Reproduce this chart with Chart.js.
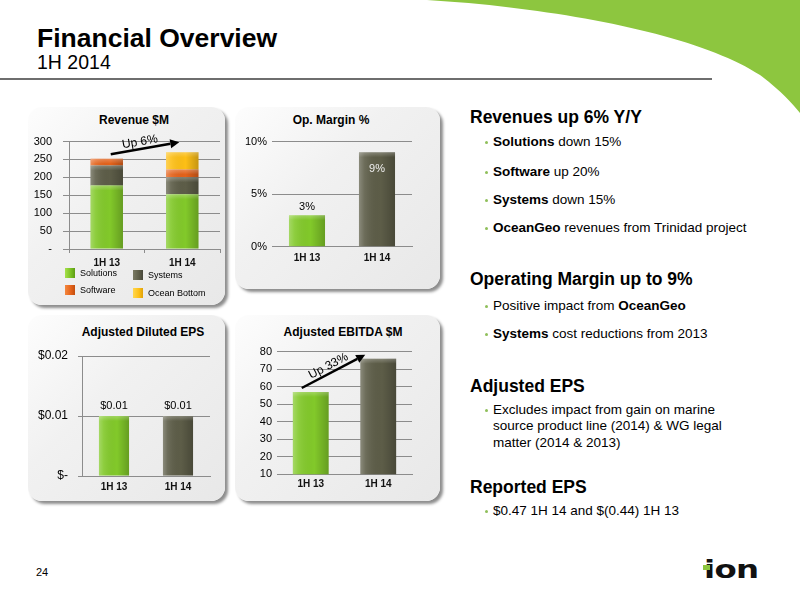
<!DOCTYPE html>
<html>
<head>
<meta charset="utf-8">
<script src="https://cdn.jsdelivr.net/npm/chart.js@4.4.1/dist/chart.umd.min.js"></script>
<style>
html,body{margin:0;padding:0;background:#fff;}
body{width:800px;height:600px;position:relative;overflow:hidden;font-family:'Liberation Sans',Arial,sans-serif;color:#000;}
.panel{position:absolute;border-radius:14px;background:linear-gradient(135deg,#fdfdfd 0%,#f1f1f1 40%,#e8e8e8 100%);box-shadow:3px 3px 3px rgba(0,0,0,0.45);}
.ptitle{position:absolute;font-weight:bold;font-size:12px;line-height:14px;white-space:nowrap;transform:translateX(-50%);}
canvas{position:absolute;}
.h{position:absolute;left:470px;font-weight:bold;font-size:17.5px;line-height:20px;white-space:nowrap;}
.b{position:absolute;left:493px;font-size:13.5px;line-height:16px;white-space:nowrap;}
.b::before{content:'';position:absolute;left:-8px;top:7px;width:3px;height:3px;border-radius:50%;background:#8fbf5a;}
.lg{position:absolute;font-size:9px;line-height:11px;white-space:nowrap;}
.lg i{position:absolute;left:-15px;top:0;width:10px;height:10px;}
</style>
</head>
<body>
<svg style="position:absolute;left:0;top:0" width="800" height="600">
  <path d="M427,0 C560,8 700,35 760,75 C780,90 792,103 800,113 L800,0 Z" fill="#8dc63f"/>
  <rect x="0" y="78" width="712" height="2" fill="#6e6e6e"/>
</svg>
<div style="position:absolute;left:37px;top:22.5px;font-weight:bold;font-size:26.5px;line-height:30px;white-space:nowrap;">Financial Overview</div>
<div style="position:absolute;left:37px;top:51.3px;font-size:19.5px;line-height:22px;white-space:nowrap;">1H 2014</div>

<div class="panel" style="left:28px;top:107px;width:197px;height:198px;"></div>
<div class="panel" style="left:235px;top:107px;width:205px;height:182px;"></div>
<div class="panel" style="left:28px;top:315px;width:197px;height:186px;"></div>
<div class="panel" style="left:235px;top:315px;width:205px;height:186px;"></div>

<div class="ptitle" style="left:134px;top:113px;">Revenue $M</div>
<div class="ptitle" style="left:331px;top:113px;">Op. Margin %</div>
<div class="ptitle" style="left:143px;top:325px;">Adjusted Diluted EPS</div>
<div class="ptitle" style="left:343px;top:325px;">Adjusted EBITDA $M</div>

<canvas id="rev" width="197" height="198" style="left:28px;top:107px;"></canvas>
<canvas id="opm" width="205" height="182" style="left:235px;top:107px;"></canvas>
<canvas id="eps" width="197" height="186" style="left:28px;top:315px;"></canvas>
<canvas id="ebitda" width="205" height="186" style="left:235px;top:315px;"></canvas>

<div class="lg" style="left:80px;top:267.5px;"><i style="background:linear-gradient(90deg,#a6e04a,#78bf22 60%,#5e9c14)"></i>Solutions</div>
<div class="lg" style="left:148px;top:269.5px;"><i style="background:linear-gradient(90deg,#7a7a64,#5d5d48 60%,#46463a)"></i>Systems</div>
<div class="lg" style="left:80px;top:284.5px;"><i style="background:linear-gradient(90deg,#f4883f,#e4621a 60%,#c24e0e)"></i>Software</div>
<div class="lg" style="left:148px;top:287.5px;"><i style="background:linear-gradient(90deg,#ffd750,#fdbf16 60%,#e0a20a)"></i>Ocean Bottom</div>

<div class="h" style="top:106.7px;">Revenues up 6% Y/Y</div>
<div class="b" style="top:134.3px;"><b>Solutions</b> down 15%</div>
<div class="b" style="top:163.7px;"><b>Software</b> up 20%</div>
<div class="b" style="top:192px;"><b>Systems</b> down 15%</div>
<div class="b" style="top:220.3px;"><b>OceanGeo</b> revenues from Trinidad project</div>
<div class="h" style="top:269px;">Operating Margin up to 9%</div>
<div class="b" style="top:298px;">Positive impact from <b>OceanGeo</b></div>
<div class="b" style="top:326.3px;"><b>Systems</b> cost reductions from 2013</div>
<div class="h" style="top:376px;">Adjusted EPS</div>
<div class="b" style="top:401.8px;line-height:16.4px;">Excludes impact from gain on marine<br>source product line (2014) &amp; WG legal<br>matter (2014 &amp; 2013)</div>
<div class="h" style="top:477.3px;">Reported EPS</div>
<div class="b" style="top:503px;">$0.47 1H 14 and $(0.44) 1H 13</div>

<div style="position:absolute;left:36px;top:565.5px;font-size:11px;line-height:13px;">24</div>
<div style="position:absolute;left:704px;top:556px;font-family:'DejaVu Sans';font-weight:bold;font-size:24px;line-height:28px;transform:scaleX(1.35);transform-origin:0 0;color:#111;letter-spacing:-0.5px;">ion</div>
<div style="position:absolute;left:703px;top:565px;width:7px;height:5px;background:#8dc63f;"></div>

<script>
// ---- data ----
const categories = ['1H 13', '1H 14'];
const revenueSolutions = [177, 153];
const revenueSystems = [56, 47];
const revenueSoftware = [19, 22];
const revenueOceanBottom = [0, 48];
const revenueTicks = [0, 50, 100, 150, 200, 250, 300];
const revenueGrowthLabel = 'Up 6%';
const opMarginPct = [3, 9];
const opMarginTicks = [0, 5, 10];
const adjustedEps = [0.01, 0.01];
const epsTicks = [0, 0.01, 0.02];
const adjustedEbitda = [57, 76];
const ebitdaTicks = [10, 20, 30, 40, 50, 60, 70, 80];
const ebitdaGrowthLabel = 'Up 33%';

// ---- styles ----
const GREEN = '#82c92a', OLIVE = '#5d5d48', ORANGE = '#e4621a', YELLOW = '#fdbf16';
const GRID = '#8c8c8c';
const FONT = "'Liberation Sans', Arial, sans-serif";

const bevelPlugin = {
  id: 'bevel',
  afterDatasetsDraw(chart) {
    const ctx = chart.ctx, area = chart.chartArea;
    ctx.save();
    ctx.beginPath();
    ctx.rect(area.left, area.top, area.right - area.left, area.bottom - area.top);
    ctx.clip();
    chart.data.datasets.forEach((ds, di) => {
      const meta = chart.getDatasetMeta(di);
      meta.data.forEach(el => {
        const p = el.getProps(['x', 'y', 'base', 'width'], true);
        const top = Math.min(p.y, p.base), h = Math.abs(p.base - p.y);
        if (h < 1) return;
        const l = p.x - p.width / 2;
        const g = ctx.createLinearGradient(l, 0, l + p.width, 0);
        g.addColorStop(0, 'rgba(255,255,255,0.28)');
        g.addColorStop(0.15, 'rgba(255,255,255,0.10)');
        g.addColorStop(0.6, 'rgba(0,0,0,0)');
        g.addColorStop(1, 'rgba(0,0,0,0.22)');
        ctx.fillStyle = g;
        ctx.fillRect(l, top, p.width, h);
        const g2 = ctx.createLinearGradient(0, top, 0, top + Math.min(5, h));
        g2.addColorStop(0, 'rgba(255,255,255,0.25)');
        g2.addColorStop(1, 'rgba(255,255,255,0)');
        ctx.fillStyle = g2;
        ctx.fillRect(l, top, p.width, Math.min(5, h));
      });
    });
    ctx.restore();
  }
};

const arrowPlugin = {
  id: 'growthArrow',
  afterDatasetsDraw(chart, args, o) {
    if (!o || !o.text) return;
    const xs = chart.scales.x, ys = chart.scales.y, ctx = chart.ctx;
    const x0 = xs.getPixelForValue(0) + o.dx0, y0 = ys.getPixelForValue(o.fromValue) + o.dy0;
    const x1 = xs.getPixelForValue(1) + o.dx1, y1 = ys.getPixelForValue(o.toValue) + o.dy1;
    const a = Math.atan2(y1 - y0, x1 - x0);
    const head = 9, hw = 4.5;
    const bx = x1 - Math.cos(a) * head, by = y1 - Math.sin(a) * head;
    ctx.save();
    ctx.strokeStyle = '#000'; ctx.fillStyle = '#000'; ctx.lineWidth = 2.5;
    ctx.beginPath(); ctx.moveTo(x0, y0); ctx.lineTo(bx, by); ctx.stroke();
    ctx.beginPath();
    ctx.moveTo(x1, y1);
    ctx.lineTo(bx + Math.sin(a) * hw, by - Math.cos(a) * hw);
    ctx.lineTo(bx - Math.sin(a) * hw, by + Math.cos(a) * hw);
    ctx.closePath(); ctx.fill();
    const mx = (x0 + x1) / 2 + Math.sin(a) * o.offset + Math.cos(a) * o.along;
    const my = (y0 + y1) / 2 - Math.cos(a) * o.offset + Math.sin(a) * o.along;
    ctx.translate(mx, my); ctx.rotate(a);
    ctx.font = '12px ' + FONT; ctx.textAlign = 'center'; ctx.textBaseline = 'middle';
    ctx.fillText(o.text, 0, 0);
    ctx.restore();
  }
};

const valueLabelPlugin = {
  id: 'valueLabels',
  afterDatasetsDraw(chart, args, o) {
    if (!o || !o.format) return;
    const ctx = chart.ctx, meta = chart.getDatasetMeta(0);
    ctx.save();
    ctx.font = (o.size || 11) + 'px ' + FONT; ctx.textAlign = 'center'; ctx.textBaseline = 'middle';
    meta.data.forEach((el, i) => {
      const v = chart.data.datasets[0].data[i];
      const inside = o.place[i] === 'inside';
      ctx.fillStyle = o.colors[i];
      ctx.fillText(o.format(v), el.x, el.y + (inside ? o.insideOffset : -o.aboveOffset));
    });
    ctx.restore();
  }
};

function yScale(o) {
  return {
    stacked: !!o.stacked, min: o.ticks[0], max: o.ticks[o.ticks.length - 1],
    afterBuildTicks: s => { s.ticks = o.ticks.map(v => ({ value: v })); },
    afterFit: s => { s.width = o.width; },
    ticks: { callback: o.fmt, color: '#000', font: { family: FONT, size: o.size || 11 }, padding: o.pad },
    grid: { color: GRID, lineWidth: 1, drawTicks: o.tick > 0, tickLength: o.tick, tickColor: GRID },
    border: { display: o.axisLine, color: GRID, width: 1 }
  };
}
function xScale(o) {
  return {
    stacked: !!o.stacked,
    afterFit: s => { s.height = 20; },
    ticks: { color: '#111', font: { family: FONT, size: 10, weight: 'bold' }, padding: o.pad },
    grid: { display: o.sepTicks, drawOnChartArea: false, drawTicks: o.sepTicks, tickLength: 4, color: GRID },
    border: { display: true, color: GRID, width: 1 }
  };
}
const base = {
  responsive: false, animation: false, devicePixelRatio: 1,
  plugins: { legend: { display: false }, title: { display: false }, tooltip: { enabled: false } }
};

new Chart(document.getElementById('rev'), {
  type: 'bar',
  data: {
    labels: categories,
    datasets: [
      { label: 'Solutions', data: revenueSolutions, backgroundColor: GREEN },
      { label: 'Systems', data: revenueSystems, backgroundColor: OLIVE },
      { label: 'Software', data: revenueSoftware, backgroundColor: ORANGE },
      { label: 'Ocean Bottom', data: revenueOceanBottom, backgroundColor: YELLOW }
    ]
  },
  options: Object.assign({}, base, {
    layout: { padding: { left: 0, right: 5, top: 34.5, bottom: 36 } },
    datasets: { bar: { categoryPercentage: 1, barPercentage: 0.43, borderWidth: 0 } },
    plugins: Object.assign({}, base.plugins, {
      growthArrow: {
        text: revenueGrowthLabel,
        fromValue: revenueSolutions[0] + revenueSystems[0] + revenueSoftware[0] + revenueOceanBottom[0],
        toValue: revenueSolutions[1] + revenueSystems[1] + revenueSoftware[1] + revenueOceanBottom[1],
        dx0: 4, dy0: -4.5, dx1: -3, dy1: -10, offset: 7, along: -4
      }
    }),
    scales: {
      x: xScale({ stacked: true, pad: 4, sepTicks: true }),
      y: yScale({ stacked: true, ticks: revenueTicks, width: 41, tick: 6, pad: 11, axisLine: true, fmt: v => v === 0 ? '-' : v })
    }
  }),
  plugins: [bevelPlugin, arrowPlugin]
});

new Chart(document.getElementById('opm'), {
  type: 'bar',
  data: { labels: categories, datasets: [{ label: 'Op. Margin %', data: opMarginPct, backgroundColor: [GREEN, OLIVE] }] },
  options: Object.assign({}, base, {
    layout: { padding: { left: 0, right: 28, top: 34.7, bottom: 22.3 } },
    datasets: { bar: { categoryPercentage: 1, barPercentage: 0.515, borderWidth: 0 } },
    plugins: Object.assign({}, base.plugins, {
      valueLabels: { format: v => v + '%', place: ['above', 'inside'], colors: ['#000', '#eeeeee'], aboveOffset: 8, insideOffset: 17, size: 11 }
    }),
    scales: {
      x: xScale({ pad: 6, sepTicks: false }),
      y: yScale({ ticks: opMarginTicks, width: 37, tick: 0, pad: 5, axisLine: false, fmt: v => v + '%' })
    }
  }),
  plugins: [bevelPlugin, valueLabelPlugin]
});

new Chart(document.getElementById('eps'), {
  type: 'bar',
  data: { labels: categories, datasets: [{ label: 'Adjusted Diluted EPS', data: adjustedEps, backgroundColor: [GREEN, OLIVE] }] },
  options: Object.assign({}, base, {
    layout: { padding: { left: 0, right: 15, top: 41, bottom: 5 } },
    datasets: { bar: { categoryPercentage: 1, barPercentage: 0.47, borderWidth: 0 } },
    plugins: Object.assign({}, base.plugins, {
      valueLabels: { format: v => '$' + v.toFixed(2), place: ['above', 'above'], colors: ['#000', '#000'], aboveOffset: 10.5, size: 11 }
    }),
    scales: {
      x: xScale({ pad: 5, sepTicks: false }),
      y: yScale({ ticks: epsTicks, width: 54, tick: 4, pad: 10, axisLine: true, size: 12, fmt: v => v === 0 ? '$-' : '$' + v.toFixed(2) })
    }
  }),
  plugins: [bevelPlugin, valueLabelPlugin]
});

new Chart(document.getElementById('ebitda'), {
  type: 'bar',
  data: { labels: categories, datasets: [{ label: 'Adjusted EBITDA $M', data: adjustedEbitda, backgroundColor: [GREEN, OLIVE] }] },
  options: Object.assign({}, base, {
    layout: { padding: { left: 0, right: 28, top: 36.7, bottom: 6.7 } },
    datasets: { bar: { categoryPercentage: 1, barPercentage: 0.53, borderWidth: 0 } },
    plugins: Object.assign({}, base.plugins, {
      growthArrow: { text: ebitdaGrowthLabel, fromValue: adjustedEbitda[0], toValue: adjustedEbitda[1], dx0: -9, dy0: -4, dx1: -13, dy1: -4, offset: 7, along: -2 }
    }),
    scales: {
      x: xScale({ pad: 4, sepTicks: false }),
      y: yScale({ ticks: ebitdaTicks, width: 42, tick: 0, pad: 5, axisLine: false, fmt: v => v })
    }
  }),
  plugins: [bevelPlugin, arrowPlugin]
});
</script>
</body>
</html>
